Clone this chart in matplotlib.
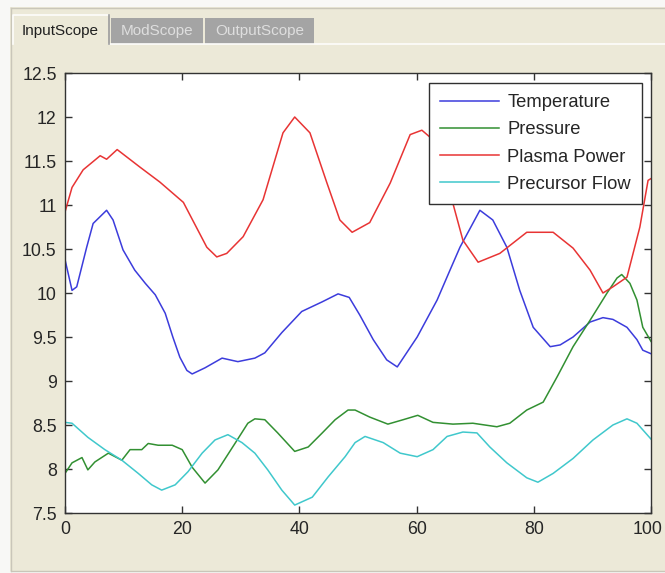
import matplotlib
matplotlib.use("Agg")
import matplotlib.pyplot as plt
from matplotlib.patches import Rectangle
from matplotlib.lines import Line2D
from matplotlib.transforms import Affine2D, ScaledTranslation

# series (x = sample, y = value)
temp_x = [0, 1.2, 2.0, 3.7, 4.8, 7.1, 8.2, 9.9, 11.9, 13.7, 15.4, 17.1, 18.4, 19.6,
          20.8, 21.7, 23.9, 26.8, 29.5, 32.4, 34.1, 37.0, 40.4, 43.9, 46.6, 48.5,
          50.3, 52.6, 54.9, 56.7, 60.1, 63.5, 65.7, 67.4, 70.8, 73.0, 75.4, 77.6,
          79.9, 82.8, 84.5, 86.7, 89.6, 91.8, 93.5, 95.9, 97.6, 98.6, 100]
temp_y = [10.38, 10.03, 10.07, 10.52, 10.79, 10.94, 10.83, 10.49, 10.26, 10.11, 9.98,
          9.77, 9.50, 9.27, 9.12, 9.08, 9.15, 9.26, 9.22, 9.26, 9.32, 9.55, 9.79, 9.90,
          9.99, 9.95, 9.75, 9.47, 9.24, 9.16, 9.50, 9.92, 10.26, 10.52, 10.94, 10.83,
          10.52, 10.03, 9.61, 9.39, 9.41, 9.50, 9.67, 9.72, 9.70, 9.61, 9.47, 9.35, 9.31]

press_x = [0, 1.2, 2.9, 3.9, 5.1, 7.4, 9.7, 11.1, 13.1, 14.2, 15.9, 18.3, 20.0, 21.7,
           23.9, 26.1, 29.0, 31.2, 32.4, 34.1, 36.3, 39.2, 41.5, 43.9, 46.1, 48.3,
           49.5, 52.0, 55.1, 57.7, 60.2, 62.8, 66.2, 69.6, 73.7, 75.9, 78.8, 81.6,
           84.0, 86.7, 89.6, 92.5, 94.2, 95.0, 96.4, 97.6, 98.6, 100]
press_y = [7.95, 8.07, 8.13, 7.99, 8.08, 8.18, 8.10, 8.22, 8.22, 8.29, 8.27, 8.27, 8.22,
           8.02, 7.84, 7.99, 8.29, 8.52, 8.57, 8.56, 8.41, 8.20, 8.25, 8.41, 8.56, 8.67,
           8.67, 8.59, 8.51, 8.56, 8.61, 8.53, 8.51, 8.52, 8.48, 8.52, 8.67, 8.76, 9.05,
           9.39, 9.69, 10.0, 10.17, 10.21, 10.11, 9.92, 9.61, 9.45]

power_x = [0, 1.2, 3.1, 6.0, 7.1, 8.9, 12.8, 16.2, 20.2, 24.2, 25.9, 27.6, 30.4, 33.8,
           37.2, 39.2, 41.8, 44.7, 46.9, 49.0, 52.0, 55.5, 58.9, 60.9, 62.3, 65.7, 67.9,
           70.5, 74.2, 78.8, 83.3, 86.7, 89.6, 91.8, 93.5, 95.9, 98.1, 99.5, 100]
power_y = [10.92, 11.20, 11.40, 11.56, 11.52, 11.63, 11.43, 11.26, 11.03, 10.52, 10.41,
           10.45, 10.64, 11.06, 11.82, 12.0, 11.82, 11.25, 10.83, 10.69, 10.80, 11.25,
           11.80, 11.85, 11.77, 11.14, 10.60, 10.35, 10.45, 10.69, 10.69, 10.51, 10.26,
           10.0, 10.07, 10.18, 10.75, 11.28, 11.30]

flow_x = [0, 1.2, 3.9, 6.8, 9.7, 12.5, 14.8, 16.5, 18.8, 21.0, 23.4, 25.6, 27.8, 30.2,
          32.4, 34.6, 37.0, 39.2, 42.2, 44.9, 47.8, 49.5, 51.2, 54.3, 57.2, 60.1, 62.8,
          65.2, 67.9, 70.3, 72.5, 75.4, 78.8, 80.7, 83.3, 86.7, 90.1, 93.5, 95.9, 97.6, 100]
flow_y = [8.53, 8.52, 8.36, 8.22, 8.10, 7.95, 7.82, 7.76, 7.82, 7.97, 8.18, 8.33, 8.39,
          8.30, 8.18, 7.99, 7.76, 7.59, 7.68, 7.91, 8.14, 8.30, 8.37, 8.30, 8.18, 8.14,
          8.22, 8.37, 8.42, 8.41, 8.25, 8.07, 7.90, 7.85, 7.95, 8.12, 8.33, 8.50, 8.57,
          8.52, 8.34]

labels = ["Temperature", "Pressure", "Plasma Power", "Precursor Flow"]
colors = ["#3c3cdc", "#329032", "#e83434", "#40c8cc"]
tabs = ["InputScope", "ModScope", "OutputScope"]
xticks = [0, 20, 40, 60, 80, 100]
yticks = [7.5, 8, 8.5, 9, 9.5, 10, 10.5, 11, 11.5, 12, 12.5]
ytick_labels = ["7.5", "8", "8.5", "9", "9.5", "10", "10.5", "11", "11.5", "12", "12.5"]

W, H = 665, 573
sans = ["Liberation Sans", "DejaVu Sans"]

fig = plt.figure(figsize=(W / 100, H / 100), dpi=100, facecolor="#ECE9D8")
# pixel coords, y down
px = Affine2D().scale(1 / W, -1 / H).translate(0, 1) + fig.transFigure

# ---- window chrome
def rect(x, y, w, h, fc, ec="none", lw=0):
    fig.patches.append(Rectangle((x, y), w, h, transform=px, facecolor=fc,
                                 edgecolor=ec, linewidth=lw))

def line(xs, ys, c, lw=1):
    fig.lines.append(Line2D(xs, ys, transform=px, color=c, linewidth=lw))

rect(0, 0, W, 7, "#f8f8f6")
rect(0, 0, 10, H, "#f8f8f6")
rect(0, 571, W, 2, "#f8f8f6")
line([10.5, W], [7.5, 7.5], "#c9c6b9")
line([10.5, 10.5], [7.5, 571], "#c9c6b9")
line([10.5, W], [571, 571], "#c9c6b9")
line([109, W], [44, 44], "#fdfdfb", 1.2)

# selected tab
line([12.5, 12.5, 108.5], [44, 15, 15], "#fdfdfb", 1.2)
line([108.5, 108.5], [15, 44], "#9c9c9c", 1.2)
fig.text(60, 31, tabs[0], transform=px, ha="center", va="center",
         fontsize=11, color="#202020", family=sans)
# the grey ones
rect(111, 18, 92, 26, "#a4a4a4")
rect(205, 18, 109, 26, "#a4a4a4")
fig.text(157, 31, tabs[1], transform=px, ha="center", va="center",
         fontsize=11, color="#dedede", family=sans)
fig.text(259.5, 31, tabs[2], transform=px, ha="center", va="center",
         fontsize=11, color="#dedede", family=sans)

# ---- the scope axes
ax = fig.add_axes([65 / W, 1 - 513 / H, 586 / W, 440 / H])
ax.set_facecolor("white")

ax.plot(temp_x, temp_y, color=colors[0], lw=1.1, label=labels[0])
ax.plot(press_x, press_y, color=colors[1], lw=1.1, label=labels[1])
ax.plot(power_x, power_y, color=colors[2], lw=1.1, label=labels[2])
ax.plot(flow_x, flow_y, color=colors[3], lw=1.1, label=labels[3])

ax.set_xlim(0, 100)
ax.set_ylim(7.5, 12.5)
ax.set_xticks(xticks)
ax.set_xticklabels([str(t) for t in xticks])
ax.set_yticks(yticks)
ax.set_yticklabels(ytick_labels)
ax.tick_params(direction="in", length=5, width=1, top=True, right=True,
               labelsize=12.8, pad=6, color="#333333", labelcolor="#262626")
for lab in ax.get_xticklabels() + ax.get_yticklabels():
    lab.set_family(sans)
# last x label sits right at the window edge, nudge it in a little
last = ax.get_xticklabels()[-1]
last.set_transform(last.get_transform() + ScaledTranslation(-3 / 100, 0, fig.dpi_scale_trans))
for s in ax.spines.values():
    s.set_color("#333333")
    s.set_linewidth(1)

leg = ax.legend(loc="upper right", bbox_to_anchor=((642 - 65) / 586, (513 - 83) / 440),
                borderaxespad=0, fancybox=False, framealpha=1, edgecolor="#303030",
                prop={"family": sans, "size": 13.2}, handlelength=3.2,
                handletextpad=0.45, labelspacing=0.56, borderpad=0.6)
leg.get_frame().set_linewidth(1)
for t in leg.get_texts():
    t.set_color("#262626")

fig.savefig("out.png", dpi=100, facecolor=fig.get_facecolor())
